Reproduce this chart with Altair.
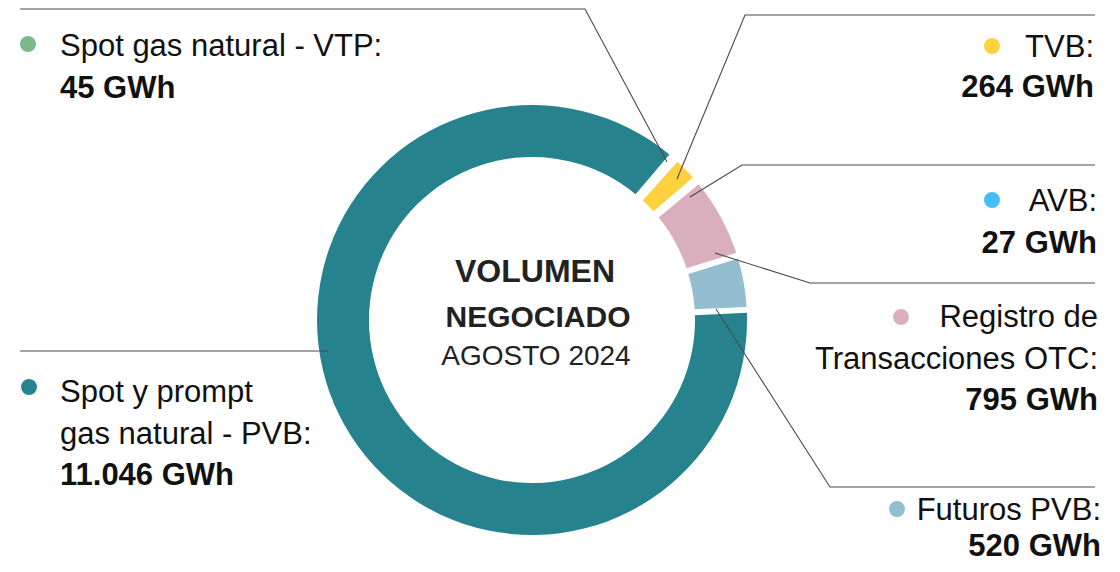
import math
import altair as alt
import pandas as pd

# ---------------- data ----------------
categories = [
    "Spot y prompt gas natural - PVB",
    "Spot gas natural - VTP",
    "TVB",
    "AVB",
    "Registro de Transacciones OTC",
    "Futuros PVB",
]
values = [11046, 45, 264, 27, 795, 520]
colors = ["#26838E", "#7BB88B", "#FFD13F", "#45BDF6", "#D9AFBE", "#92BECF"]
label_lines = [
    ["Spot y prompt", "gas natural - PVB:"],
    ["Spot gas natural - VTP:"],
    ["TVB:"],
    ["AVB:"],
    ["Registro de", "Transacciones OTC:"],
    ["Futuros PVB:"],
]
center_lines = ["VOLUMEN", "NEGOCIADO", "AGOSTO 2024"]

# ---------------- layout (page pixels) ----------------
M = 8
W, H = 1104, 556
CX, CY = 532, 320
R_IN, R_OUT = 163, 215
START_DEG = 87.3
# text x, first baseline, align, dot x, dot y, line height
label_pos = [
    (60, 402, "left", 29, 387, 41.5),
    (60, 56, "left", 28, 44, 41.5),
    (1094, 57, "right", 992, 46, 40),
    (1097, 211, "right", 992, 200, 41.5),
    (1098, 327, "right", 901, 317, 41.5),
    (1101, 520, "right", 897, 509, 36),
]
leader_pts = [
    [(20, 351), (328, 351)],
    [(20, 9), (585, 9), (667, 162)],
    [(1095, 15), (745, 15), (677, 179)],
    [(1095, 165), (742, 165), (690, 197)],
    [(1095, 283), (810, 283), (715, 253)],
    [(1095, 487), (830, 487), (716, 309)],
]
# x, baseline, weight, size
center_pos = [(535, 282, "bold", 32), (538, 327, "bold", 30), (536, 365, "normal", 28)]


def fmt(v):
    return f"{v:,}".replace(",", ".") + " GWh"


df = pd.DataFrame({"cat": categories, "value": values, "idx": list(range(len(values)))})

xs = alt.Scale(domain=[M, M + W], nice=False, zero=False)
ys = alt.Scale(domain=[M + H, M], nice=False, zero=False)
cscale = alt.Scale(domain=categories, range=colors)

start = math.radians(START_DEG)
arc = alt.Chart(df).mark_arc(innerRadius=R_IN, outerRadius=R_OUT, padAngle=0.022).encode(
    theta=alt.Theta("value:Q", stack=True, scale=alt.Scale(range=[start, start + 2 * math.pi])),
    color=alt.Color("cat:N", scale=cscale, legend=None),
    order=alt.Order("idx:Q"),
    x=alt.value(CX - M),
    y=alt.value(CY - M),
)

# leader lines
lrows = []
for i, pts in enumerate(leader_pts):
    for k, (px, py) in enumerate(pts):
        lrows.append({"lid": i, "k": k, "x": px, "y": py})
lines = alt.Chart(pd.DataFrame(lrows)).mark_line(color="#4a4a4a", strokeWidth=1.1).encode(
    x=alt.X("x:Q", scale=xs, axis=None),
    y=alt.Y("y:Q", scale=ys, axis=None),
    detail="lid:N",
    order="k:Q",
)

# dots
drows = [{"cat": c, "x": p[3], "y": p[4]} for c, p in zip(categories, label_pos)]
dots = alt.Chart(pd.DataFrame(drows)).mark_point(filled=True, shape="circle", size=254, opacity=1).encode(
    x=alt.X("x:Q", scale=xs, axis=None),
    y=alt.Y("y:Q", scale=ys, axis=None),
    color=alt.Color("cat:N", scale=cscale, legend=None),
)

# label texts
trows = []
for c, v, lines_, p in zip(categories, values, label_lines, label_pos):
    tx, ty, al, lh = p[0], p[1], p[2], p[5]
    for j, t in enumerate(lines_):
        trows.append({"x": tx, "y": ty + j * lh, "t": t, "al": al, "w": "n"})
    trows.append({"x": tx, "y": ty + len(lines_) * lh, "t": fmt(v), "al": al, "w": "b"})
tdf = pd.DataFrame(trows)

FONT = "Liberation Sans"


def text_layer(al, w):
    return alt.Chart(tdf).transform_filter(
        (alt.datum.al == al) & (alt.datum.w == w)
    ).mark_text(
        align=al, baseline="alphabetic", font=FONT, fontSize=31,
        fontWeight="normal" if w == "n" else "bold", color="#111111",
    ).encode(
        x=alt.X("x:Q", scale=xs, axis=None),
        y=alt.Y("y:Q", scale=ys, axis=None),
        text="t:N",
    )


crow = [{"x": p[0], "y": p[1], "t": t, "w": p[2], "s": p[3]} for t, p in zip(center_lines, center_pos)]
cdf = pd.DataFrame(crow)
center_b = alt.Chart(cdf).transform_filter(alt.datum.w == "bold").mark_text(
    align="center", baseline="alphabetic", font=FONT, fontWeight="bold", color="#222222",
).encode(
    x=alt.X("x:Q", scale=xs, axis=None), y=alt.Y("y:Q", scale=ys, axis=None), text="t:N",
    size=alt.Size("s:Q", scale=None, legend=None),
)
center_n = alt.Chart(cdf).transform_filter(alt.datum.w == "normal").mark_text(
    align="center", baseline="alphabetic", font=FONT, fontWeight="normal", color="#222222",
).encode(
    x=alt.X("x:Q", scale=xs, axis=None), y=alt.Y("y:Q", scale=ys, axis=None), text="t:N",
    size=alt.Size("s:Q", scale=None, legend=None),
)

chart = alt.layer(
    arc, lines, dots,
    text_layer("left", "n"), text_layer("left", "b"),
    text_layer("right", "n"), text_layer("right", "b"),
    center_b, center_n,
).properties(
    width=W, height=H, padding=0, autosize=alt.AutoSizeParams(type="none"), background="white"
).configure_view(stroke=None)

chart.save("out.html", embed_options={"renderer": "svg", "actions": False})
